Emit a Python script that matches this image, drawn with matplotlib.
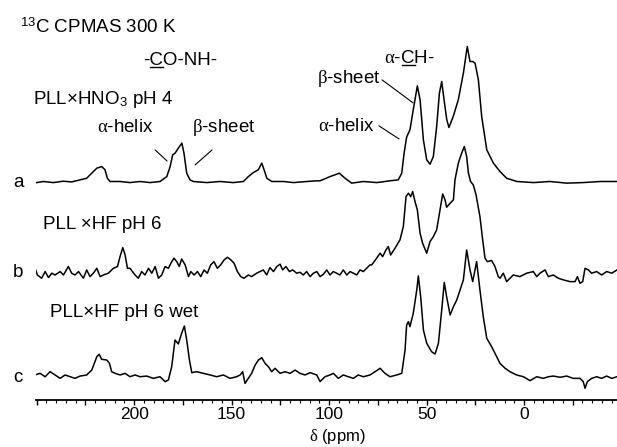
import numpy as np
import matplotlib
matplotlib.use('Agg')
from matplotlib import pyplot as plt
from matplotlib.ticker import MultipleLocator, FuncFormatter
from matplotlib.lines import Line2D

# 13C CPMAS spectra, chemical shift (ppm) vs intensity (arb. units, baseline = 0)
ppm_a = [251.6, 246.5, 241.4, 236.3, 232.0, 227.7, 224.3, 221.7, 219.1, 216.6,
         214.9, 213.7, 212.3, 207.2, 202.1, 196.9, 191.8, 186.7, 183.2, 181.5,
         180.2, 179.0, 177.3, 175.5, 174.4, 173.0, 171.3, 169.6, 162.7, 155.9,
         149.1, 143.9, 141.4, 138.8, 136.3, 134.5, 133.3, 131.9, 129.4, 123.4,
         118.3, 111.4, 106.3, 104.6, 99.5, 94.7, 91.8, 88.4, 82.4, 75.5,
         68.7, 64.5, 62.7, 61.5, 60.2, 58.5, 56.8, 54.7, 53.3, 51.6,
         49.9, 48.2, 46.5, 44.8, 43.4, 42.2, 41.0, 39.6, 38.5, 36.3,
         33.7, 31.1, 29.1, 27.7, 26.3, 25.1, 23.4, 21.7, 19.1, 15.7,
         12.3, 8.9, 3.7, -4.8, -13.3, -21.9, -30.4, -39.0, -47.7]
int_a = [-0.2, 1.0, 0.2, 1.2, 0.7, 2.2, 3.4, 7.1, 10.8, 12.0,
         9.6, 3.4, 1.0, 1.0, 0.2, 1.0, 0.2, 1.0, 4.6, 12.0,
         20.6, 21.8, 25.5, 29.2, 21.8, 7.1, 2.2, 1.0, 0.2, 1.0,
         0.2, 1.0, 4.6, 7.6, 9.6, 14.5, 9.6, 3.4, 1.0, 1.0,
         0.2, 1.0, 1.5, 1.5, 4.6, 7.1, 3.4, -0.2, 1.0, 0.2,
         1.5, 2.2, 7.1, 21.8, 33.6, 39.0, 53.7, 71.3, 61.0, 31.6,
         16.9, 13.7, 19.3, 41.4, 65.9, 74.5, 61.0, 46.3, 40.7, 48.8,
         61.0, 80.6, 100.2, 89.2, 89.2, 88.0, 75.7, 48.8, 24.3, 14.5,
         8.3, 3.4, 1.0, 0.2, 1.0, -0.2, 0.2, 1.0, 1.0]

ppm_b = [251.6, 249.6, 247.4, 245.6, 243.9, 242.2, 240.5, 237.9, 236.2, 233.7,
         232.0, 230.3, 228.5, 226.0, 224.3, 222.6, 220.9, 219.1, 217.4, 215.7,
         213.2, 210.6, 208.5, 207.2, 205.8, 204.6, 203.4, 202.1, 199.5, 197.8,
         196.1, 194.4, 192.6, 190.9, 189.2, 187.5, 185.8, 184.1, 182.4, 180.7,
         179.5, 178.1, 176.8, 175.6, 173.8, 172.1, 170.9, 169.2, 167.5, 165.8,
         164.1, 162.4, 160.7, 159.0, 157.3, 155.6, 153.8, 152.1, 150.4, 148.7,
         147.0, 145.3, 143.6, 141.4, 139.7, 137.1, 135.4, 133.7, 132.0, 130.3,
         128.5, 126.8, 125.1, 123.8, 122.1, 120.3, 118.6, 116.6, 114.9, 113.2,
         111.5, 109.7, 108.0, 106.3, 104.6, 102.9, 101.2, 99.5, 97.8, 96.1,
         94.4, 92.7, 90.9, 89.2, 87.5, 85.8, 84.1, 82.4, 80.7, 79.0,
         78.1, 75.6, 73.8, 72.5, 70.8, 69.6, 68.4, 66.2, 63.6, 61.9,
         60.5, 59.3, 58.1, 57.1, 55.9, 54.7, 53.3, 52.0, 49.9, 48.2,
         46.5, 44.8, 43.1, 41.7, 40.5, 39.7, 37.9, 36.2, 35.4, 33.7,
         32.0, 30.6, 29.4, 28.5, 27.4, 26.0, 24.6, 22.6, 21.2, 20.0,
         18.8, 16.6, 14.9, 13.2, 12.3, 10.6, 8.9, 5.5, 2.1, -1.4,
         -4.8, -6.5, -8.2, -10.8, -12.5, -15.0, -17.6, -20.2, -23.6, -26.2,
         -27.4, -28.7, -30.1, -31.3, -33.0, -34.7, -37.3, -39.8, -42.4, -45.0,
         -47.7]
int_b = [7.1, -1.5, -3.9, 1.0, -3.4, -0.2, -1.5, 1.0, -1.5, 4.7,
         -0.2, -1.5, 1.0, -3.9, 2.2, -2.7, -0.2, 3.4, -2.7, -1.5,
         -0.2, 3.4, 4.7, 12.0, 18.6, 13.2, 3.4, 3.4, -1.5, -3.9,
         1.0, -1.5, 3.4, -0.2, 4.7, -3.9, -1.5, 4.7, 3.4, 8.3,
         10.8, 8.3, 4.7, 10.3, 5.9, -2.7, 1.0, -1.5, 1.0, -2.7,
         2.2, -0.2, 5.9, 8.3, 3.4, 5.9, 9.6, 11.5, 9.6, 7.1,
         1.0, -2.7, -3.9, -1.5, -2.7, -0.2, 1.0, 2.2, -1.5, 3.9,
         1.0, 4.7, 6.4, 2.2, 4.7, 1.0, 2.2, -0.2, 0.5, -1.5,
         1.0, -2.7, -0.2, 1.0, -2.7, -1.0, 2.2, -1.5, 1.0, -0.2,
         -1.5, 2.2, -1.5, 1.0, -0.2, -1.5, 2.2, 1.0, 3.4, 5.9,
         5.9, 10.8, 14.5, 12.0, 16.9, 19.4, 13.2, 18.1, 24.3, 34.1,
         56.1, 58.6, 56.1, 59.8, 52.4, 46.3, 29.2, 21.8, 14.5, 23.0,
         26.7, 31.6, 46.3, 58.1, 53.7, 48.3, 51.2, 53.7, 68.4, 80.6,
         88.0, 92.9, 85.5, 73.3, 67.2, 64.7, 57.4, 41.4, 24.3, 10.8,
         8.3, 9.1, 4.7, -2.7, -3.9, -0.2, -6.4, -1.5, -2.7, -0.2,
         1.0, -2.7, -0.2, 2.2, -2.7, -1.5, -3.9, -5.1, -6.4, -6.4,
         -2.7, -7.6, -6.4, 3.4, 2.2, -0.2, 1.0, -1.5, 1.0, -0.2,
         2.2]

ppm_c = [250.8, 248.2, 245.6, 243.1, 240.5, 237.9, 235.4, 232.8, 230.3, 227.7,
         224.3, 221.7, 219.1, 217.9, 216.6, 214.0, 212.6, 211.5, 209.7, 207.2,
         204.6, 202.1, 199.5, 196.9, 193.5, 190.1, 186.7, 184.1, 182.4, 180.7,
         179.0, 177.3, 175.6, 174.2, 173.0, 171.6, 170.4, 167.9, 164.4, 161.0,
         157.6, 154.2, 150.8, 147.4, 145.6, 144.3, 143.1, 141.4, 139.7, 137.9,
         136.2, 134.5, 132.8, 131.1, 129.4, 127.7, 125.1, 122.6, 120.0, 117.4,
         114.9, 112.3, 109.7, 106.3, 104.6, 102.1, 99.5, 97.8, 95.2, 92.7,
         90.1, 87.5, 85.0, 82.4, 79.0, 76.4, 73.8, 71.3, 68.7, 65.3,
         62.7, 61.0, 60.2, 59.3, 58.5, 56.8, 55.0, 54.2, 53.0, 51.6,
         49.9, 47.4, 45.6, 43.9, 42.2, 40.9, 39.7, 37.9, 36.2, 34.5,
         32.8, 31.1, 29.4, 27.7, 26.3, 25.1, 24.3, 22.6, 20.9, 19.1,
         16.6, 14.0, 12.3, 9.7, 7.2, 3.8, 0.3, -3.1, -6.5, -9.9,
         -12.5, -15.0, -18.5, -21.9, -25.3, -28.7, -30.4, -31.3, -32.5, -34.7,
         -37.3, -39.8, -42.4, -45.0, -47.7]
int_c = [1.5, 2.7, 0.2, 3.9, 1.5, -1.0, 1.5, 0.2, -1.0, 0.7,
         1.5, 5.1, 14.9, 16.7, 13.0, 12.5, 10.0, 3.9, 2.7, 1.5,
         2.7, 0.2, 1.5, 0.2, 0.7, -1.0, 0.2, -3.4, -2.2, 7.6,
         27.2, 24.3, 32.1, 37.5, 27.2, 12.5, 3.2, 3.9, 2.7, 1.5,
         0.2, 1.5, -1.0, 0.2, 1.5, 3.9, -4.7, -1.0, 2.7, 8.8,
         12.5, 14.2, 10.0, 7.6, 3.9, 6.4, 2.7, 3.9, 2.7, 5.1,
         2.7, 1.5, 3.2, 1.5, -3.4, 0.2, 1.5, 2.7, -1.0, 1.5,
         0.2, -1.0, 1.5, 0.2, 1.5, 3.9, 6.4, 2.7, 0.2, 1.5,
         2.7, 19.9, 38.2, 40.7, 37.0, 46.8, 64.0, 74.3, 59.1, 34.6,
         24.8, 18.6, 16.9, 24.8, 49.3, 69.6, 59.1, 45.6, 51.7, 56.6,
         64.0, 71.3, 93.4, 78.7, 70.1, 78.7, 84.8, 64.0, 44.4, 28.4,
         22.3, 14.9, 10.0, 6.4, 3.9, 1.5, 0.2, -2.7, 0.2, -1.0,
         0.2, 0.7, -0.2, 0.7, -1.0, -1.0, -3.4, -8.3, -3.4, -1.0,
         0.2, -1.0, 0.7, -1.0, 0.2]

trace_labels = ['a', 'b', 'c']
sample_names = [r'PLL×HNO$_\mathsf{3}$ pH 4', 'PLL ×HF pH 6', 'PLL×HF pH 6 wet']
tick_labels = [200, 150, 100, 50, 0]

plt.rcParams['font.family'] = 'Liberation Sans'
plt.rcParams['mathtext.fontset'] = 'custom'
plt.rcParams['mathtext.rm'] = 'Liberation Serif'
plt.rcParams['mathtext.sf'] = 'Liberation Sans'
plt.rcParams['mathtext.it'] = 'Liberation Serif:italic'

fs = 13.5
W, H = 617, 447
fig = plt.figure(figsize=(W / 100, H / 100), dpi=100)
ax = fig.add_axes([36 / W, 1 - 400 / H, 1 - 36 / W, 400 / H])

offsets = [159.6, 93.4, 16.9]
name_pos = [(251.8, 220.6), (246.7, 128.7), (243.1, 64.0)]
traces = [(ppm_a, int_a), (ppm_b, int_b), (ppm_c, int_c)]
for (ppm, inten), off, lab, name, npos in zip(traces, offsets, trace_labels, sample_names, name_pos):
    ax.plot(ppm, np.array(inten) + off, color='black', lw=1.1)
    ax.text(259.5, off, lab, ha='center', va='center', fontsize=fs)
    ax.text(npos[0], npos[1], name, ha='left', va='center', fontsize=fs)

ax.set_xlim(250.3, -47.7)
ax.set_ylim(0, 294)
for s in ['left', 'top', 'right']:
    ax.spines[s].set_visible(False)
ax.spines['bottom'].set_linewidth(1.3)
ax.set_yticks([])
ax.xaxis.set_major_locator(MultipleLocator(25))
ax.xaxis.set_minor_locator(MultipleLocator(5))
ax.xaxis.set_major_formatter(FuncFormatter(lambda v, p: '%d' % round(v) if round(v) in tick_labels else ''))
ax.tick_params(axis='x', which='major', length=3.6, width=1, labelsize=12.5, pad=1.5)
ax.tick_params(axis='x', which='minor', length=2, width=0.8)
fig.text(337 / W, 1.5 / H, r'$\mathrm{\delta}$ (ppm)', ha='center', va='bottom', fontsize=12)

ax.text(258.5, 274.3, r'$^\mathsf{13}$C CPMAS 300 K', ha='left', va='center', fontsize=fs)
co = ax.text(176.2, 249.3, '-CO-NH-', ha='center', va='center', fontsize=fs)
ch = ax.text(58.7, 250.7, r'$\mathrm{\alpha}$-CH-', ha='center', va='center', fontsize=fs)

ax.text(190.3, 200, r'$\mathrm{\alpha}$-helix', ha='right', va='center', fontsize=fs)
ax.text(170.3, 200, r'$\mathrm{\beta}$-sheet', ha='left', va='center', fontsize=fs)
ax.text(73.8, 236, r'$\mathrm{\beta}$-sheet', ha='right', va='center', fontsize=fs)
ax.text(76.9, 200.7, r'$\mathrm{\alpha}$-helix', ha='right', va='center', fontsize=fs)

leaders = [((189.2, 183.8), (183.1, 175.7)),
           ((160.0, 183.8), (168.7, 172.8)),
           ((72.8, 235.3), (56.9, 218.4)),
           ((74.4, 201.5), (64.1, 191.9))]
for p0, p1 in leaders:
    ax.annotate('', xy=p1, xytext=p0,
                arrowprops=dict(arrowstyle='-', lw=0.8, color='black', shrinkA=0, shrinkB=0))


def underline(txt, prefix, ch):
    r = fig.canvas.get_renderer()
    bb = txt.get_window_extent(r)
    t = fig.text(0, 0, prefix, fontsize=fs)
    w0 = t.get_window_extent(r).width
    t.set_text(prefix + ch)
    w1 = t.get_window_extent(r).width
    t.remove()
    y = bb.y0 + 2
    fig.add_artist(Line2D([(bb.x0 + w0) / W, (bb.x0 + w1) / W], [y / H, y / H],
                          color='black', lw=1, transform=fig.transFigure))


fig.canvas.draw()
underline(co, '-', 'C')
underline(ch, r'$\mathrm{\alpha}$-', 'C')

fig.savefig('out.png', dpi=100)
